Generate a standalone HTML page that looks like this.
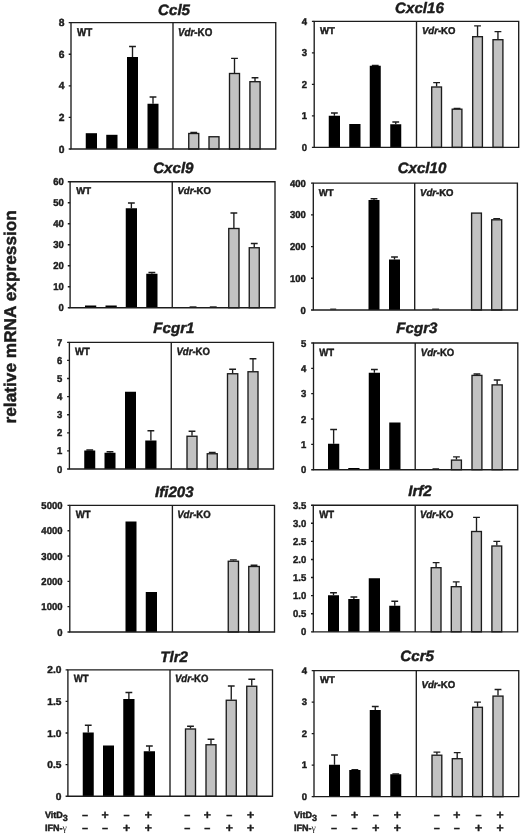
<!DOCTYPE html>
<html lang="en">
<head>
<meta charset="utf-8">
<title>relative mRNA expression</title>
<style>
html,body{margin:0;padding:0;background:#fff;}
body{width:520px;height:835px;overflow:hidden;}
svg{display:block;font-family:'Liberation Sans', Arial, Helvetica, sans-serif;fill:#1c1c1c;will-change:transform;filter:grayscale(1) blur(0.3px);}
svg text{stroke:#1c1c1c;stroke-width:0.45px;text-rendering:geometricPrecision;}
</style>
</head>
<body>
<svg width="520" height="835" viewBox="0 0 520 835">
<rect width="520" height="835" fill="#ffffff"/>
<g>
<text x="174.05" y="14.6" text-anchor="middle" font-size="15.1" font-weight="bold" font-style="italic">Ccl5</text>
<rect x="85.75" y="133.2" width="11.25" height="15.8" fill="#000000"/>
<rect x="106.25" y="134.8" width="11.25" height="14.2" fill="#000000"/>
<path d="M132.5 57V46.5M129.1 46.5H135.9" stroke="#1c1c1c" stroke-width="1.35" fill="none"/>
<rect x="127" y="57" width="11" height="92" fill="#000000"/>
<path d="M153 103.75V97M149.6 97H156.4" stroke="#1c1c1c" stroke-width="1.35" fill="none"/>
<rect x="147.5" y="103.75" width="11" height="45.25" fill="#000000"/>
<path d="M193.75 133V132.5M190.35 132.5H197.15" stroke="#1c1c1c" stroke-width="1.35" fill="none"/>
<rect x="188.75" y="133.5" width="10" height="15.5" fill="#c2c2c2" stroke="#1c1c1c" stroke-width="1.35"/>
<rect x="209" y="136.75" width="10" height="12.25" fill="#c2c2c2" stroke="#1c1c1c" stroke-width="1.35"/>
<path d="M234.5 73V58.4M231.1 58.4H237.9" stroke="#1c1c1c" stroke-width="1.35" fill="none"/>
<rect x="229.5" y="73.5" width="10" height="75.5" fill="#c2c2c2" stroke="#1c1c1c" stroke-width="1.35"/>
<path d="M255 81.2V77.7M251.6 77.7H258.4" stroke="#1c1c1c" stroke-width="1.35" fill="none"/>
<rect x="249.9" y="81.7" width="10.2" height="67.3" fill="#c2c2c2" stroke="#1c1c1c" stroke-width="1.35"/>
<path d="M71 22.6H275.75V149H71ZM173 22.6V149" stroke="#1c1c1c" stroke-width="1.35" fill="none"/>
<text transform="translate(64.5 26.21) scale(1.0 1)" text-anchor="end" font-size="10.3" font-weight="bold">8</text>
<text transform="translate(64.5 57.8) scale(1.0 1)" text-anchor="end" font-size="10.3" font-weight="bold">6</text>
<text transform="translate(64.5 89.41) scale(1.0 1)" text-anchor="end" font-size="10.3" font-weight="bold">4</text>
<text transform="translate(64.5 121.01) scale(1.0 1)" text-anchor="end" font-size="10.3" font-weight="bold">2</text>
<text transform="translate(64.5 152.6) scale(1.0 1)" text-anchor="end" font-size="10.3" font-weight="bold">0</text>
<path d="M68.7 22.6H71M68.7 54.2H71M68.7 85.8H71M68.7 117.4H71M68.7 149H71" stroke="#1c1c1c" stroke-width="1.35" fill="none"/>
<text transform="translate(77 35.6) scale(0.875 1)" font-size="11.2" font-weight="bold">WT</text>
<text transform="translate(178 35.6) scale(0.875 1)" font-size="11.2" font-weight="bold"><tspan font-style="italic">Vdr</tspan>-KO</text>
</g>
<g>
<text x="419.45" y="12.7" text-anchor="middle" font-size="15.1" font-weight="bold" font-style="italic">Cxcl16</text>
<path d="M334.38 115.75V113M330.98 113H337.77" stroke="#1c1c1c" stroke-width="1.35" fill="none"/>
<rect x="328.75" y="115.75" width="11.25" height="31.65" fill="#000000"/>
<rect x="349.25" y="124" width="11.25" height="23.4" fill="#000000"/>
<path d="M375.25 65.75V65.3M371.85 65.3H378.65" stroke="#1c1c1c" stroke-width="1.35" fill="none"/>
<rect x="369.75" y="65.75" width="11" height="81.65" fill="#000000"/>
<path d="M395.75 124.25V122M392.35 122H399.15" stroke="#1c1c1c" stroke-width="1.35" fill="none"/>
<rect x="390.25" y="124.25" width="11" height="23.15" fill="#000000"/>
<path d="M436.6 86.5V82.6M433.2 82.6H440" stroke="#1c1c1c" stroke-width="1.35" fill="none"/>
<rect x="431.7" y="87" width="9.8" height="60.4" fill="#c2c2c2" stroke="#1c1c1c" stroke-width="1.35"/>
<path d="M457.05 108.7V108.3M453.65 108.3H460.45" stroke="#1c1c1c" stroke-width="1.35" fill="none"/>
<rect x="452.2" y="109.2" width="9.7" height="38.2" fill="#c2c2c2" stroke="#1c1c1c" stroke-width="1.35"/>
<path d="M477.55 36.2V25.8M474.15 25.8H480.95" stroke="#1c1c1c" stroke-width="1.35" fill="none"/>
<rect x="472.7" y="36.7" width="9.7" height="110.7" fill="#c2c2c2" stroke="#1c1c1c" stroke-width="1.35"/>
<path d="M497.95 39.2V31.6M494.55 31.6H501.35" stroke="#1c1c1c" stroke-width="1.35" fill="none"/>
<rect x="493" y="39.7" width="9.9" height="107.7" fill="#c2c2c2" stroke="#1c1c1c" stroke-width="1.35"/>
<path d="M314.2 21.4H518.7V147.4H314.2ZM416.5 21.4V147.4" stroke="#1c1c1c" stroke-width="1.35" fill="none"/>
<text transform="translate(307 24.9) scale(0.95 1)" text-anchor="end" font-size="10.0" font-weight="bold">4</text>
<text transform="translate(307 56.4) scale(0.95 1)" text-anchor="end" font-size="10.0" font-weight="bold">3</text>
<text transform="translate(307 87.9) scale(0.95 1)" text-anchor="end" font-size="10.0" font-weight="bold">2</text>
<text transform="translate(307 119.4) scale(0.95 1)" text-anchor="end" font-size="10.0" font-weight="bold">1</text>
<text transform="translate(307 150.9) scale(0.95 1)" text-anchor="end" font-size="10.0" font-weight="bold">0</text>
<path d="M311.9 21.4H314.2M311.9 52.9H314.2M311.9 84.4H314.2M311.9 115.9H314.2M311.9 147.4H314.2" stroke="#1c1c1c" stroke-width="1.35" fill="none"/>
<text transform="translate(320 33.75) scale(0.965 1)" font-size="9.9" font-weight="bold">WT</text>
<text transform="translate(422 33.75) scale(0.965 1)" font-size="9.9" font-weight="bold"><tspan font-style="italic">Vdr</tspan>-KO</text>
</g>
<g>
<text x="173.35" y="172.5" text-anchor="middle" font-size="15.1" font-weight="bold" font-style="italic">Cxcl9</text>
<rect x="85" y="305.5" width="11.25" height="2.25" fill="#000000"/>
<rect x="105.5" y="305.5" width="11.25" height="2.25" fill="#000000"/>
<path d="M131.38 208.25V203M127.97 203H134.78" stroke="#1c1c1c" stroke-width="1.35" fill="none"/>
<rect x="125.75" y="208.25" width="11.25" height="99.5" fill="#000000"/>
<path d="M151.88 273.75V272.5M148.47 272.5H155.28" stroke="#1c1c1c" stroke-width="1.35" fill="none"/>
<rect x="146.25" y="273.75" width="11.25" height="34" fill="#000000"/>
<path d="M233.88 228V213M230.47 213H237.28" stroke="#1c1c1c" stroke-width="1.35" fill="none"/>
<rect x="228.75" y="228.5" width="10.25" height="79.25" fill="#c2c2c2" stroke="#1c1c1c" stroke-width="1.35"/>
<path d="M254.25 247.25V243.5M250.85 243.5H257.65" stroke="#1c1c1c" stroke-width="1.35" fill="none"/>
<rect x="249.25" y="247.75" width="10" height="60" fill="#c2c2c2" stroke="#1c1c1c" stroke-width="1.35"/>
<path d="M189.6 306.85H196.5" stroke="#1c1c1c" stroke-width="1.1" fill="none"/>
<path d="M209.8 306.85H216.7" stroke="#1c1c1c" stroke-width="1.1" fill="none"/>
<path d="M70.1 181.7H275V307.75H70.1ZM172.25 181.7V307.75" stroke="#1c1c1c" stroke-width="1.35" fill="none"/>
<text transform="translate(63.75 185.2) scale(0.95 1)" text-anchor="end" font-size="10.0" font-weight="bold">60</text>
<text transform="translate(63.75 206.21) scale(0.95 1)" text-anchor="end" font-size="10.0" font-weight="bold">50</text>
<text transform="translate(63.75 227.22) scale(0.95 1)" text-anchor="end" font-size="10.0" font-weight="bold">40</text>
<text transform="translate(63.75 248.22) scale(0.95 1)" text-anchor="end" font-size="10.0" font-weight="bold">30</text>
<text transform="translate(63.75 269.23) scale(0.95 1)" text-anchor="end" font-size="10.0" font-weight="bold">20</text>
<text transform="translate(63.75 290.24) scale(0.95 1)" text-anchor="end" font-size="10.0" font-weight="bold">10</text>
<text transform="translate(63.75 311.25) scale(0.95 1)" text-anchor="end" font-size="10.0" font-weight="bold">0</text>
<path d="M67.8 181.7H70.1M67.8 202.71H70.1M67.8 223.72H70.1M67.8 244.72H70.1M67.8 265.73H70.1M67.8 286.74H70.1M67.8 307.75H70.1" stroke="#1c1c1c" stroke-width="1.35" fill="none"/>
<text transform="translate(76.25 194) scale(0.965 1)" font-size="9.9" font-weight="bold">WT</text>
<text transform="translate(177.5 194) scale(0.965 1)" font-size="9.9" font-weight="bold"><tspan font-style="italic">Vdr</tspan>-KO</text>
</g>
<g>
<text x="422" y="173.1" text-anchor="middle" font-size="15.1" font-weight="bold" font-style="italic">Cxcl10</text>
<path d="M374 200V198.75M370.6 198.75H377.4" stroke="#1c1c1c" stroke-width="1.35" fill="none"/>
<rect x="368.5" y="200" width="11" height="110" fill="#000000"/>
<path d="M394.5 259.5V257M391.1 257H397.9" stroke="#1c1c1c" stroke-width="1.35" fill="none"/>
<rect x="389" y="259.5" width="11" height="50.5" fill="#000000"/>
<rect x="471.6" y="213.1" width="9.8" height="96.9" fill="#c2c2c2" stroke="#1c1c1c" stroke-width="1.35"/>
<path d="M496.7 219.3V218.6M493.3 218.6H500.1" stroke="#1c1c1c" stroke-width="1.35" fill="none"/>
<rect x="491.7" y="219.8" width="10" height="90.2" fill="#c2c2c2" stroke="#1c1c1c" stroke-width="1.35"/>
<path d="M330.2 309.1H336.2" stroke="#1c1c1c" stroke-width="1.1" fill="none"/>
<path d="M432.2 309.1H439.1" stroke="#1c1c1c" stroke-width="1.1" fill="none"/>
<path d="M313.3 183.1H517.4V310H313.3ZM414.7 183.1V310" stroke="#1c1c1c" stroke-width="1.35" fill="none"/>
<text transform="translate(305.75 186.6) scale(0.95 1)" text-anchor="end" font-size="10.0" font-weight="bold">400</text>
<text transform="translate(305.75 218.32) scale(0.95 1)" text-anchor="end" font-size="10.0" font-weight="bold">300</text>
<text transform="translate(305.75 250.05) scale(0.95 1)" text-anchor="end" font-size="10.0" font-weight="bold">200</text>
<text transform="translate(305.75 281.77) scale(0.95 1)" text-anchor="end" font-size="10.0" font-weight="bold">100</text>
<text transform="translate(305.75 313.5) scale(0.95 1)" text-anchor="end" font-size="10.0" font-weight="bold">0</text>
<path d="M311 183.1H313.3M311 214.82H313.3M311 246.55H313.3M311 278.27H313.3M311 310H313.3" stroke="#1c1c1c" stroke-width="1.35" fill="none"/>
<text transform="translate(318.75 195.5) scale(0.965 1)" font-size="9.9" font-weight="bold">WT</text>
<text transform="translate(420.1 195.7) scale(0.965 1)" font-size="9.9" font-weight="bold"><tspan font-style="italic">Vdr</tspan>-KO</text>
</g>
<g>
<text x="173.9" y="333" text-anchor="middle" font-size="15.1" font-weight="bold" font-style="italic">Fcgr1</text>
<path d="M89.75 450.5V450M86.35 450H93.15" stroke="#1c1c1c" stroke-width="1.35" fill="none"/>
<rect x="84.25" y="450.5" width="11" height="18.5" fill="#000000"/>
<path d="M110 452.75V451.7M106.6 451.7H113.4" stroke="#1c1c1c" stroke-width="1.35" fill="none"/>
<rect x="104.5" y="452.75" width="11" height="16.25" fill="#000000"/>
<rect x="125" y="391.75" width="11" height="77.25" fill="#000000"/>
<path d="M150.88 440.5V430.75M147.47 430.75H154.28" stroke="#1c1c1c" stroke-width="1.35" fill="none"/>
<rect x="145.25" y="440.5" width="11.25" height="28.5" fill="#000000"/>
<path d="M192 435.75V431.25M188.6 431.25H195.4" stroke="#1c1c1c" stroke-width="1.35" fill="none"/>
<rect x="187" y="436.25" width="10" height="32.75" fill="#c2c2c2" stroke="#1c1c1c" stroke-width="1.35"/>
<path d="M212.25 453.25V452.3M208.85 452.3H215.65" stroke="#1c1c1c" stroke-width="1.35" fill="none"/>
<rect x="207.25" y="453.75" width="10" height="15.25" fill="#c2c2c2" stroke="#1c1c1c" stroke-width="1.35"/>
<path d="M232.62 373.25V369.25M229.22 369.25H236.03" stroke="#1c1c1c" stroke-width="1.35" fill="none"/>
<rect x="227.5" y="373.75" width="10.25" height="95.25" fill="#c2c2c2" stroke="#1c1c1c" stroke-width="1.35"/>
<path d="M253 371.25V358.75M249.6 358.75H256.4" stroke="#1c1c1c" stroke-width="1.35" fill="none"/>
<rect x="248" y="371.75" width="10" height="97.25" fill="#c2c2c2" stroke="#1c1c1c" stroke-width="1.35"/>
<path d="M69.4 342.3H273.45V469H69.4ZM171.25 342.3V469" stroke="#1c1c1c" stroke-width="1.35" fill="none"/>
<text transform="translate(62.25 345.8) scale(0.95 1)" text-anchor="end" font-size="10.0" font-weight="bold">7</text>
<text transform="translate(62.25 363.9) scale(0.95 1)" text-anchor="end" font-size="10.0" font-weight="bold">6</text>
<text transform="translate(62.25 382) scale(0.95 1)" text-anchor="end" font-size="10.0" font-weight="bold">5</text>
<text transform="translate(62.25 400.1) scale(0.95 1)" text-anchor="end" font-size="10.0" font-weight="bold">4</text>
<text transform="translate(62.25 418.2) scale(0.95 1)" text-anchor="end" font-size="10.0" font-weight="bold">3</text>
<text transform="translate(62.25 436.3) scale(0.95 1)" text-anchor="end" font-size="10.0" font-weight="bold">2</text>
<text transform="translate(62.25 454.4) scale(0.95 1)" text-anchor="end" font-size="10.0" font-weight="bold">1</text>
<text transform="translate(62.25 472.5) scale(0.95 1)" text-anchor="end" font-size="10.0" font-weight="bold">0</text>
<path d="M67.1 342.3H69.4M67.1 360.4H69.4M67.1 378.5H69.4M67.1 396.6H69.4M67.1 414.7H69.4M67.1 432.8H69.4M67.1 450.9H69.4M67.1 469H69.4" stroke="#1c1c1c" stroke-width="1.35" fill="none"/>
<text transform="translate(75 354.5) scale(0.91 1)" font-size="10.5" font-weight="bold">WT</text>
<text transform="translate(176.5 354.5) scale(0.91 1)" font-size="10.5" font-weight="bold"><tspan font-style="italic">Vdr</tspan>-KO</text>
</g>
<g>
<text x="416.9" y="333.2" text-anchor="middle" font-size="15.1" font-weight="bold" font-style="italic">Fcgr3</text>
<path d="M333.62 443.75V429.5M330.23 429.5H337.02" stroke="#1c1c1c" stroke-width="1.35" fill="none"/>
<rect x="328" y="443.75" width="11.25" height="25.95" fill="#000000"/>
<rect x="348.25" y="468" width="11.25" height="1.7" fill="#000000"/>
<path d="M374.38 372.75V369.5M370.98 369.5H377.77" stroke="#1c1c1c" stroke-width="1.35" fill="none"/>
<rect x="368.75" y="372.75" width="11.25" height="96.95" fill="#000000"/>
<rect x="389.25" y="422.5" width="11.25" height="47.2" fill="#000000"/>
<path d="M456.45 459.6V456.85M453.05 456.85H459.85" stroke="#1c1c1c" stroke-width="1.35" fill="none"/>
<rect x="451.5" y="460.1" width="9.9" height="9.6" fill="#c2c2c2" stroke="#1c1c1c" stroke-width="1.35"/>
<path d="M476.95 374.9V374M473.55 374H480.35" stroke="#1c1c1c" stroke-width="1.35" fill="none"/>
<rect x="472" y="375.4" width="9.9" height="94.3" fill="#c2c2c2" stroke="#1c1c1c" stroke-width="1.35"/>
<path d="M497.15 384.4V380M493.75 380H500.55" stroke="#1c1c1c" stroke-width="1.35" fill="none"/>
<rect x="492.1" y="384.9" width="10.1" height="84.8" fill="#c2c2c2" stroke="#1c1c1c" stroke-width="1.35"/>
<path d="M432.5 468.8H439.1" stroke="#1c1c1c" stroke-width="1.1" fill="none"/>
<path d="M313.5 343H517.8V469.7H313.5ZM415.2 343V469.7" stroke="#1c1c1c" stroke-width="1.35" fill="none"/>
<text transform="translate(306.35 346.5) scale(0.95 1)" text-anchor="end" font-size="10.0" font-weight="bold">5</text>
<text transform="translate(306.35 371.84) scale(0.95 1)" text-anchor="end" font-size="10.0" font-weight="bold">4</text>
<text transform="translate(306.35 397.18) scale(0.95 1)" text-anchor="end" font-size="10.0" font-weight="bold">3</text>
<text transform="translate(306.35 422.52) scale(0.95 1)" text-anchor="end" font-size="10.0" font-weight="bold">2</text>
<text transform="translate(306.35 447.86) scale(0.95 1)" text-anchor="end" font-size="10.0" font-weight="bold">1</text>
<text transform="translate(306.35 473.2) scale(0.95 1)" text-anchor="end" font-size="10.0" font-weight="bold">0</text>
<path d="M311.2 343H313.5M311.2 368.34H313.5M311.2 393.68H313.5M311.2 419.02H313.5M311.2 444.36H313.5M311.2 469.7H313.5" stroke="#1c1c1c" stroke-width="1.35" fill="none"/>
<text transform="translate(319.25 355.5) scale(0.91 1)" font-size="10.5" font-weight="bold">WT</text>
<text transform="translate(420.8 355.8) scale(0.91 1)" font-size="10.5" font-weight="bold"><tspan font-style="italic">Vdr</tspan>-KO</text>
</g>
<g>
<text x="174.3" y="496.95" text-anchor="middle" font-size="15.1" font-weight="bold" font-style="italic">Ifi203</text>
<rect x="125.5" y="521.5" width="11" height="110.5" fill="#000000"/>
<rect x="145.75" y="592" width="11.25" height="40" fill="#000000"/>
<path d="M233.38 560.75V559.9M229.97 559.9H236.78" stroke="#1c1c1c" stroke-width="1.35" fill="none"/>
<rect x="228.25" y="561.25" width="10.25" height="70.75" fill="#c2c2c2" stroke="#1c1c1c" stroke-width="1.35"/>
<path d="M254.03 566V565.2M250.62 565.2H257.43" stroke="#1c1c1c" stroke-width="1.35" fill="none"/>
<rect x="248.75" y="566.5" width="10.55" height="65.5" fill="#c2c2c2" stroke="#1c1c1c" stroke-width="1.35"/>
<path d="M69.8 505.4H274.5V632H69.8ZM172.4 505.4V632" stroke="#1c1c1c" stroke-width="1.35" fill="none"/>
<text transform="translate(62.5 508.9) scale(0.95 1)" text-anchor="end" font-size="10.0" font-weight="bold">5000</text>
<text transform="translate(62.5 534.22) scale(0.95 1)" text-anchor="end" font-size="10.0" font-weight="bold">4000</text>
<text transform="translate(62.5 559.54) scale(0.95 1)" text-anchor="end" font-size="10.0" font-weight="bold">3000</text>
<text transform="translate(62.5 584.86) scale(0.95 1)" text-anchor="end" font-size="10.0" font-weight="bold">2000</text>
<text transform="translate(62.5 610.18) scale(0.95 1)" text-anchor="end" font-size="10.0" font-weight="bold">1000</text>
<text transform="translate(62.5 635.5) scale(0.95 1)" text-anchor="end" font-size="10.0" font-weight="bold">0</text>
<path d="M67.5 505.4H69.8M67.5 530.72H69.8M67.5 556.04H69.8M67.5 581.36H69.8M67.5 606.68H69.8M67.5 632H69.8" stroke="#1c1c1c" stroke-width="1.35" fill="none"/>
<text transform="translate(75.75 518) scale(0.91 1)" font-size="10.5" font-weight="bold">WT</text>
<text transform="translate(177.2 518.25) scale(0.91 1)" font-size="10.5" font-weight="bold"><tspan font-style="italic">Vdr</tspan>-KO</text>
</g>
<g>
<text x="420" y="496.2" text-anchor="middle" font-size="15.1" font-weight="bold" font-style="italic">Irf2</text>
<path d="M333.5 595.25V592.75M330.1 592.75H336.9" stroke="#1c1c1c" stroke-width="1.35" fill="none"/>
<rect x="328" y="595.25" width="11" height="36.55" fill="#000000"/>
<path d="M353.88 599V597M350.48 597H357.27" stroke="#1c1c1c" stroke-width="1.35" fill="none"/>
<rect x="348.25" y="599" width="11.25" height="32.8" fill="#000000"/>
<rect x="368.75" y="578.25" width="11.25" height="53.55" fill="#000000"/>
<path d="M394.75 605.75V601.25M391.35 601.25H398.15" stroke="#1c1c1c" stroke-width="1.35" fill="none"/>
<rect x="389.25" y="605.75" width="11" height="26.05" fill="#000000"/>
<path d="M436.1 567.2V562.6M432.7 562.6H439.5" stroke="#1c1c1c" stroke-width="1.35" fill="none"/>
<rect x="431.2" y="567.7" width="9.8" height="64.1" fill="#c2c2c2" stroke="#1c1c1c" stroke-width="1.35"/>
<path d="M456.2 586.2V581.8M452.8 581.8H459.6" stroke="#1c1c1c" stroke-width="1.35" fill="none"/>
<rect x="451.3" y="586.7" width="9.8" height="45.1" fill="#c2c2c2" stroke="#1c1c1c" stroke-width="1.35"/>
<path d="M476.5 531V517.4M473.1 517.4H479.9" stroke="#1c1c1c" stroke-width="1.35" fill="none"/>
<rect x="471.6" y="531.5" width="9.8" height="100.3" fill="#c2c2c2" stroke="#1c1c1c" stroke-width="1.35"/>
<path d="M496.8 545.5V541.4M493.4 541.4H500.2" stroke="#1c1c1c" stroke-width="1.35" fill="none"/>
<rect x="491.9" y="546" width="9.8" height="85.8" fill="#c2c2c2" stroke="#1c1c1c" stroke-width="1.35"/>
<path d="M313.3 505.2H517.6V631.8H313.3ZM415.2 505.2V631.8" stroke="#1c1c1c" stroke-width="1.35" fill="none"/>
<text transform="translate(306.25 508.7) scale(0.95 1)" text-anchor="end" font-size="10.0" font-weight="bold">3.5</text>
<text transform="translate(306.25 526.79) scale(0.95 1)" text-anchor="end" font-size="10.0" font-weight="bold">3.0</text>
<text transform="translate(306.25 544.87) scale(0.95 1)" text-anchor="end" font-size="10.0" font-weight="bold">2.5</text>
<text transform="translate(306.25 562.96) scale(0.95 1)" text-anchor="end" font-size="10.0" font-weight="bold">2.0</text>
<text transform="translate(306.25 581.04) scale(0.95 1)" text-anchor="end" font-size="10.0" font-weight="bold">1.5</text>
<text transform="translate(306.25 599.13) scale(0.95 1)" text-anchor="end" font-size="10.0" font-weight="bold">1.0</text>
<text transform="translate(306.25 617.21) scale(0.95 1)" text-anchor="end" font-size="10.0" font-weight="bold">0.5</text>
<text transform="translate(306.25 635.3) scale(0.95 1)" text-anchor="end" font-size="10.0" font-weight="bold">0</text>
<path d="M311 505.2H313.3M311 523.29H313.3M311 541.37H313.3M311 559.46H313.3M311 577.54H313.3M311 595.63H313.3M311 613.71H313.3M311 631.8H313.3" stroke="#1c1c1c" stroke-width="1.35" fill="none"/>
<text transform="translate(319.25 517.75) scale(0.91 1)" font-size="10.5" font-weight="bold">WT</text>
<text transform="translate(419.9 517.8) scale(0.91 1)" font-size="10.5" font-weight="bold"><tspan font-style="italic">Vdr</tspan>-KO</text>
</g>
<g>
<text x="174.15" y="661.95" text-anchor="middle" font-size="15.1" font-weight="bold" font-style="italic">Tlr2</text>
<path d="M88.25 732.5V725.25M84.85 725.25H91.65" stroke="#1c1c1c" stroke-width="1.35" fill="none"/>
<rect x="82.75" y="732.5" width="11" height="63.75" fill="#000000"/>
<rect x="103" y="745.5" width="11" height="50.75" fill="#000000"/>
<path d="M128.88 699V692.5M125.47 692.5H132.28" stroke="#1c1c1c" stroke-width="1.35" fill="none"/>
<rect x="123.25" y="699" width="11.25" height="97.25" fill="#000000"/>
<path d="M149.38 751.25V746M145.97 746H152.78" stroke="#1c1c1c" stroke-width="1.35" fill="none"/>
<rect x="143.75" y="751.25" width="11.25" height="45" fill="#000000"/>
<path d="M190.5 728.5V726.25M187.1 726.25H193.9" stroke="#1c1c1c" stroke-width="1.35" fill="none"/>
<rect x="185.5" y="729" width="10" height="67.25" fill="#c2c2c2" stroke="#1c1c1c" stroke-width="1.35"/>
<path d="M211 744.25V739.25M207.6 739.25H214.4" stroke="#1c1c1c" stroke-width="1.35" fill="none"/>
<rect x="206" y="744.75" width="10" height="51.5" fill="#c2c2c2" stroke="#1c1c1c" stroke-width="1.35"/>
<path d="M231.25 699.75V686M227.85 686H234.65" stroke="#1c1c1c" stroke-width="1.35" fill="none"/>
<rect x="226.25" y="700.25" width="10" height="96" fill="#c2c2c2" stroke="#1c1c1c" stroke-width="1.35"/>
<path d="M251.75 685.75V679.25M248.35 679.25H255.15" stroke="#1c1c1c" stroke-width="1.35" fill="none"/>
<rect x="246.75" y="686.25" width="10" height="110" fill="#c2c2c2" stroke="#1c1c1c" stroke-width="1.35"/>
<path d="M67.9 669.8H272.5V796.25H67.9ZM170 669.8V796.25" stroke="#1c1c1c" stroke-width="1.35" fill="none"/>
<text transform="translate(61.4 673.3) scale(1.02 1)" text-anchor="end" font-size="10.0" font-weight="bold">2.0</text>
<text transform="translate(61.4 704.91) scale(1.02 1)" text-anchor="end" font-size="10.0" font-weight="bold">1.5</text>
<text transform="translate(61.4 736.52) scale(1.02 1)" text-anchor="end" font-size="10.0" font-weight="bold">1.0</text>
<text transform="translate(61.4 768.14) scale(1.02 1)" text-anchor="end" font-size="10.0" font-weight="bold">0.5</text>
<text transform="translate(61.4 799.75) scale(1.02 1)" text-anchor="end" font-size="10.0" font-weight="bold">0</text>
<path d="M65.6 669.8H67.9M65.6 701.41H67.9M65.6 733.02H67.9M65.6 764.64H67.9M65.6 796.25H67.9" stroke="#1c1c1c" stroke-width="1.35" fill="none"/>
<text transform="translate(73.75 681.5) scale(0.91 1)" font-size="10.5" font-weight="bold">WT</text>
<text transform="translate(175 681.5) scale(0.91 1)" font-size="10.5" font-weight="bold"><tspan font-style="italic">Vdr</tspan>-KO</text>
</g>
<g>
<text x="417.15" y="661.1" text-anchor="middle" font-size="15.1" font-weight="bold" font-style="italic">Ccr5</text>
<path d="M334.5 764.75V755M331.1 755H337.9" stroke="#1c1c1c" stroke-width="1.35" fill="none"/>
<rect x="329" y="764.75" width="11" height="31.85" fill="#000000"/>
<path d="M354.88 770V769.6M351.48 769.6H358.27" stroke="#1c1c1c" stroke-width="1.35" fill="none"/>
<rect x="349.25" y="770" width="11.25" height="26.6" fill="#000000"/>
<path d="M375.25 710V706.5M371.85 706.5H378.65" stroke="#1c1c1c" stroke-width="1.35" fill="none"/>
<rect x="369.75" y="710" width="11" height="86.6" fill="#000000"/>
<path d="M395.75 774.25V773.9M392.35 773.9H399.15" stroke="#1c1c1c" stroke-width="1.35" fill="none"/>
<rect x="390.25" y="774.25" width="11" height="22.35" fill="#000000"/>
<path d="M436.9 754.7V752.1M433.5 752.1H440.3" stroke="#1c1c1c" stroke-width="1.35" fill="none"/>
<rect x="432" y="755.2" width="9.8" height="41.4" fill="#c2c2c2" stroke="#1c1c1c" stroke-width="1.35"/>
<path d="M457.2 758.2V752.6M453.8 752.6H460.6" stroke="#1c1c1c" stroke-width="1.35" fill="none"/>
<rect x="452.3" y="758.7" width="9.8" height="37.9" fill="#c2c2c2" stroke="#1c1c1c" stroke-width="1.35"/>
<path d="M477.55 706.8V702.1M474.15 702.1H480.95" stroke="#1c1c1c" stroke-width="1.35" fill="none"/>
<rect x="472.7" y="707.3" width="9.7" height="89.3" fill="#c2c2c2" stroke="#1c1c1c" stroke-width="1.35"/>
<path d="M498 695.6V689.5M494.6 689.5H501.4" stroke="#1c1c1c" stroke-width="1.35" fill="none"/>
<rect x="493" y="696.1" width="10" height="100.5" fill="#c2c2c2" stroke="#1c1c1c" stroke-width="1.35"/>
<path d="M314 670.6H518.75V796.6H314ZM416.3 670.6V796.6" stroke="#1c1c1c" stroke-width="1.35" fill="none"/>
<text transform="translate(307 673.93) scale(1.0 1)" text-anchor="end" font-size="9.5" font-weight="bold">4</text>
<text transform="translate(307 705.43) scale(1.0 1)" text-anchor="end" font-size="9.5" font-weight="bold">3</text>
<text transform="translate(307 736.93) scale(1.0 1)" text-anchor="end" font-size="9.5" font-weight="bold">2</text>
<text transform="translate(307 768.43) scale(1.0 1)" text-anchor="end" font-size="9.5" font-weight="bold">1</text>
<text transform="translate(307 799.93) scale(1.0 1)" text-anchor="end" font-size="9.5" font-weight="bold">0</text>
<path d="M311.7 670.6H314M311.7 702.1H314M311.7 733.6H314M311.7 765.1H314M311.7 796.6H314" stroke="#1c1c1c" stroke-width="1.35" fill="none"/>
<text transform="translate(319.9 682.5) scale(0.96 1)" font-size="10.0" font-weight="bold">WT</text>
<text transform="translate(421.5 688) scale(0.96 1)" font-size="10.0" font-weight="bold"><tspan font-style="italic">Vdr</tspan>-KO</text>
</g>
<text transform="translate(15.7 316.8) rotate(-90)" text-anchor="middle" font-size="17" font-weight="bold" textLength="213.4" lengthAdjust="spacingAndGlyphs">relative mRNA expression</text>
<text transform="translate(44.9 818.3) scale(1.0 1)" font-size="9.0" font-weight="bold">VitD<tspan dy="3.1" font-size="9.0">3</tspan></text>
<text transform="translate(44.9 830.8) scale(1.0 1)" font-size="9.0" font-weight="bold">IFN-<tspan font-weight="normal" font-family="Liberation Serif, DejaVu Serif, serif" font-size="9.8" stroke="none">γ</tspan></text>
<text transform="translate(294.1 818.3) scale(1.0 1)" font-size="9.0" font-weight="bold">VitD<tspan dy="3.1" font-size="9.0">3</tspan></text>
<text transform="translate(294.1 830.8) scale(1.0 1)" font-size="9.0" font-weight="bold">IFN-<tspan font-weight="normal" font-family="Liberation Serif, DejaVu Serif, serif" font-size="9.8" stroke="none">γ</tspan></text>
<text x="85" y="818.8" text-anchor="middle" font-size="10.4" font-weight="bold" stroke-width="0.5">−</text>
<text x="105.1" y="819.4" text-anchor="middle" font-size="12.2" font-weight="bold" stroke-width="0.3">+</text>
<text x="126.6" y="818.8" text-anchor="middle" font-size="10.4" font-weight="bold" stroke-width="0.5">−</text>
<text x="148.3" y="819.4" text-anchor="middle" font-size="12.2" font-weight="bold" stroke-width="0.3">+</text>
<text x="85" y="831.8" text-anchor="middle" font-size="10.4" font-weight="bold" stroke-width="0.5">−</text>
<text x="105.1" y="831.8" text-anchor="middle" font-size="10.4" font-weight="bold" stroke-width="0.5">−</text>
<text x="126.6" y="832.4" text-anchor="middle" font-size="12.2" font-weight="bold" stroke-width="0.3">+</text>
<text x="148.3" y="832.4" text-anchor="middle" font-size="12.2" font-weight="bold" stroke-width="0.3">+</text>
<text x="187.4" y="818.8" text-anchor="middle" font-size="10.4" font-weight="bold" stroke-width="0.5">−</text>
<text x="207.4" y="819.4" text-anchor="middle" font-size="12.2" font-weight="bold" stroke-width="0.3">+</text>
<text x="229.3" y="818.8" text-anchor="middle" font-size="10.4" font-weight="bold" stroke-width="0.5">−</text>
<text x="250.6" y="819.4" text-anchor="middle" font-size="12.2" font-weight="bold" stroke-width="0.3">+</text>
<text x="187.4" y="831.8" text-anchor="middle" font-size="10.4" font-weight="bold" stroke-width="0.5">−</text>
<text x="207.4" y="831.8" text-anchor="middle" font-size="10.4" font-weight="bold" stroke-width="0.5">−</text>
<text x="229.3" y="832.4" text-anchor="middle" font-size="12.2" font-weight="bold" stroke-width="0.3">+</text>
<text x="250.6" y="832.4" text-anchor="middle" font-size="12.2" font-weight="bold" stroke-width="0.3">+</text>
<text x="334" y="818.8" text-anchor="middle" font-size="10.4" font-weight="bold" stroke-width="0.5">−</text>
<text x="354.6" y="819.4" text-anchor="middle" font-size="12.2" font-weight="bold" stroke-width="0.3">+</text>
<text x="375.8" y="818.8" text-anchor="middle" font-size="10.4" font-weight="bold" stroke-width="0.5">−</text>
<text x="397.4" y="819.4" text-anchor="middle" font-size="12.2" font-weight="bold" stroke-width="0.3">+</text>
<text x="334" y="831.8" text-anchor="middle" font-size="10.4" font-weight="bold" stroke-width="0.5">−</text>
<text x="354.6" y="831.8" text-anchor="middle" font-size="10.4" font-weight="bold" stroke-width="0.5">−</text>
<text x="375.8" y="832.4" text-anchor="middle" font-size="12.2" font-weight="bold" stroke-width="0.3">+</text>
<text x="397.4" y="832.4" text-anchor="middle" font-size="12.2" font-weight="bold" stroke-width="0.3">+</text>
<text x="436.8" y="818.8" text-anchor="middle" font-size="10.4" font-weight="bold" stroke-width="0.5">−</text>
<text x="456.9" y="819.4" text-anchor="middle" font-size="12.2" font-weight="bold" stroke-width="0.3">+</text>
<text x="478.5" y="818.8" text-anchor="middle" font-size="10.4" font-weight="bold" stroke-width="0.5">−</text>
<text x="500" y="819.4" text-anchor="middle" font-size="12.2" font-weight="bold" stroke-width="0.3">+</text>
<text x="436.8" y="831.8" text-anchor="middle" font-size="10.4" font-weight="bold" stroke-width="0.5">−</text>
<text x="456.9" y="831.8" text-anchor="middle" font-size="10.4" font-weight="bold" stroke-width="0.5">−</text>
<text x="478.5" y="832.4" text-anchor="middle" font-size="12.2" font-weight="bold" stroke-width="0.3">+</text>
<text x="500" y="832.4" text-anchor="middle" font-size="12.2" font-weight="bold" stroke-width="0.3">+</text>
</svg>
</body>
</html>
